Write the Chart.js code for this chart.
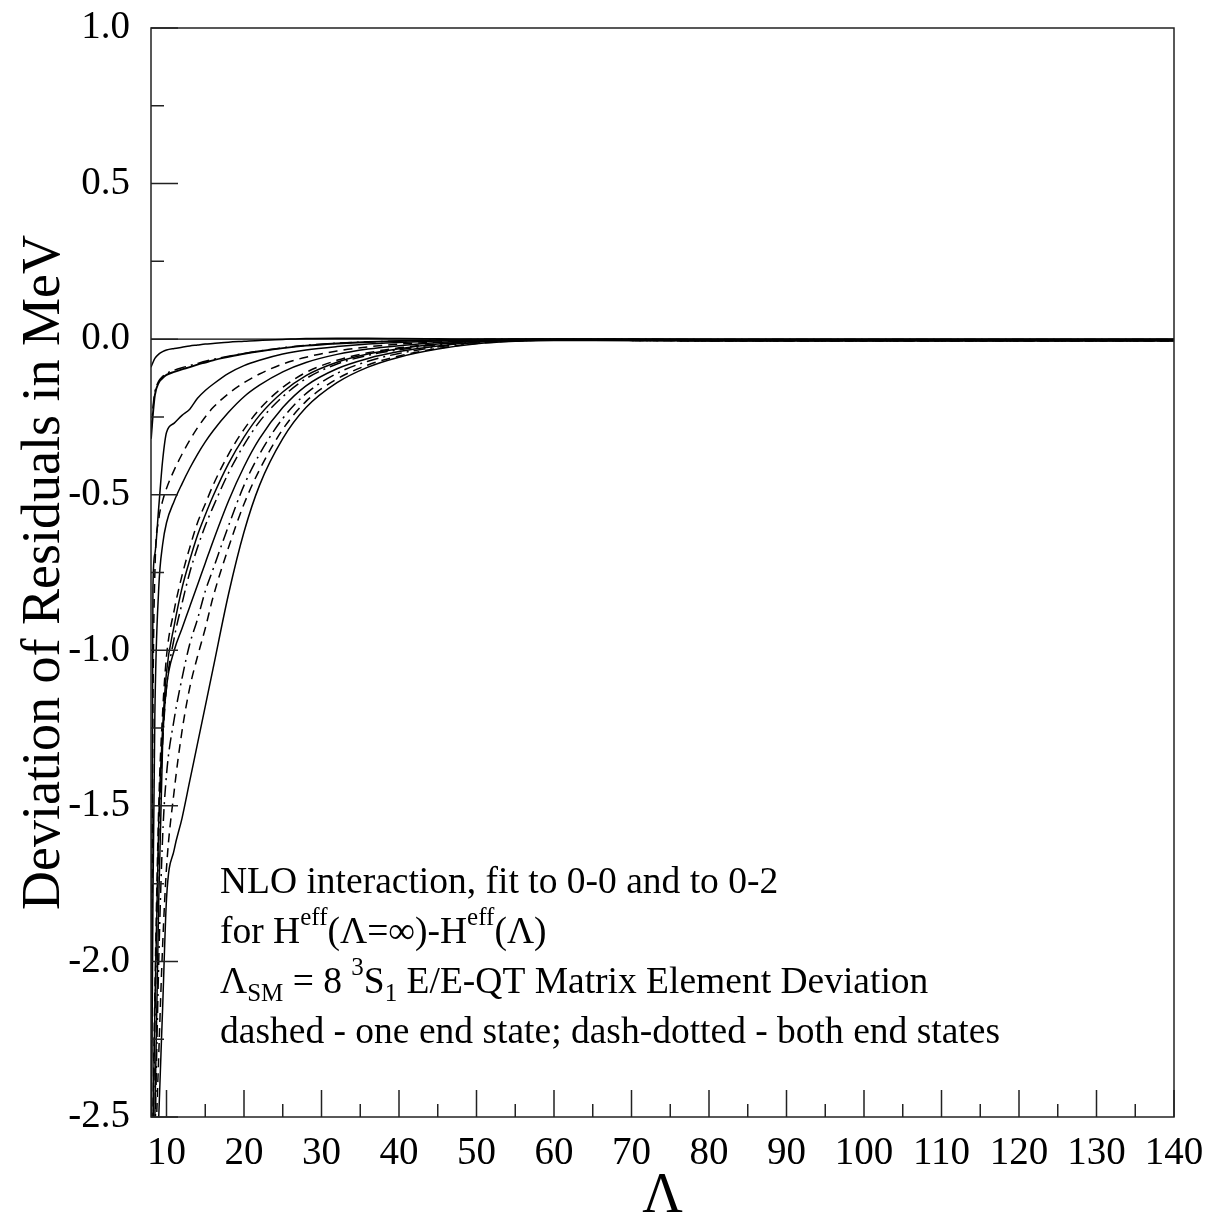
<!DOCTYPE html>
<html><head><meta charset="utf-8">
<script src="https://cdn.jsdelivr.net/npm/chart.js@4/dist/chart.umd.min.js"></script>
<style>html,body{margin:0;padding:0;background:#fff}#wrap{width:1211px;height:1220px;position:relative}</style>
</head><body><div id="wrap"><canvas id="c" width="1211" height="1220"></canvas></div>
<script>
// Lambda grid (x values)
const LAMBDA = [8, 8.25, 8.5, 9, 9.5, 10, 11, 12, 13, 14, 15, 16, 18, 20, 22, 25, 28, 32, 36, 40, 45, 50, 55, 60, 80, 100, 120, 140];
// series (MeV)
const curveA  = [-0.09, -0.075, -0.062, -0.048, -0.04, -0.035, -0.03, -0.026, -0.022, -0.019, -0.016, -0.014, -0.01, -0.007, -0.004, -0.001, 0.002, 0.003, 0.003, 0.002, 0.001, 0, 0, 0, 0, 0, 0, 0];
const curveB  = [-0.32, -0.24, -0.18, -0.14, -0.125, -0.115, -0.105, -0.097, -0.09, -0.082, -0.075, -0.068, -0.057, -0.047, -0.039, -0.029, -0.021, -0.014, -0.009, -0.006, -0.003, -0.001, 0, 0, -0.001, -0.001, -0.001, -0.001];
const curveB2 = [-0.3, -0.22, -0.17, -0.135, -0.12, -0.11, -0.1, -0.092, -0.085, -0.078, -0.071, -0.065, -0.055, -0.046, -0.038, -0.028, -0.02, -0.013, -0.009, -0.006, -0.003, -0.001, 0, 0, -0.001, -0.001, -0.001, -0.001];
const curveC  = [-2.7, -0.8, -0.69, -0.54, -0.39, -0.3, -0.27, -0.245, -0.225, -0.19, -0.165, -0.145, -0.11, -0.085, -0.068, -0.048, -0.035, -0.024, -0.016, -0.011, -0.006, -0.003, -0.001, 0, -0.002, -0.002, -0.002, -0.002];
const curveD  = [-2.6, -1.2, -0.75, -0.58, -0.52, -0.48, -0.42, -0.37, -0.325, -0.285, -0.25, -0.22, -0.175, -0.14, -0.112, -0.08, -0.058, -0.038, -0.025, -0.016, -0.009, -0.004, -0.002, -0.001, -0.002, -0.002, -0.002, -0.002];
const curveE  = [-2.8, -1.8, -1.2, -0.8, -0.66, -0.59, -0.52, -0.465, -0.415, -0.37, -0.33, -0.295, -0.235, -0.185, -0.148, -0.105, -0.075, -0.049, -0.032, -0.021, -0.011, -0.005, -0.002, -0.001, -0.003, -0.003, -0.003, -0.003];
const curveF6 = [-2.9, -2.5, -2.1, -1.5, -1.2, -1.02, -0.87, -0.76, -0.67, -0.59, -0.53, -0.47, -0.37, -0.29, -0.225, -0.155, -0.107, -0.068, -0.044, -0.028, -0.015, -0.007, -0.003, -0.002, -0.004, -0.004, -0.004, -0.004];
const curveG  = [-2.95, -2.55, -2.15, -1.55, -1.25, -1.07, -0.92, -0.8, -0.71, -0.63, -0.565, -0.505, -0.4, -0.315, -0.245, -0.17, -0.117, -0.074, -0.048, -0.031, -0.016, -0.007, -0.003, -0.002, -0.004, -0.004, -0.004, -0.004];
const curveF5 = [-3.0, -2.6, -2.2, -1.6, -1.3, -1.12, -0.96, -0.85, -0.75, -0.67, -0.6, -0.54, -0.43, -0.34, -0.265, -0.185, -0.127, -0.08, -0.052, -0.034, -0.018, -0.008, -0.004, -0.003, -0.005, -0.005, -0.005, -0.005];
const curveF4 = [-3.3, -2.9, -2.5, -1.8, -1.3, -1.12, -1.0, -0.93, -0.86, -0.79, -0.72, -0.65, -0.52, -0.41, -0.32, -0.22, -0.15, -0.095, -0.062, -0.04, -0.022, -0.01, -0.005, -0.003, -0.005, -0.005, -0.005, -0.005];
const curveF3 = [-3.4, -3.0, -2.6, -2.0, -1.6, -1.4, -1.22, -1.09, -0.98, -0.9, -0.81, -0.74, -0.6, -0.47, -0.37, -0.255, -0.175, -0.11, -0.071, -0.046, -0.025, -0.011, -0.005, -0.003, -0.005, -0.005, -0.005, -0.005];
const curveF2 = [-3.4, -3.0, -2.7, -2.3, -1.95, -1.7, -1.45, -1.26, -1.12, -1.02, -0.93, -0.83, -0.67, -0.53, -0.42, -0.29, -0.2, -0.128, -0.083, -0.054, -0.03, -0.014, -0.006, -0.003, -0.005, -0.005, -0.005, -0.005];
const curveO  = [-3.5, -3.2, -2.9, -2.5, -2.15, -1.8, -1.64, -1.54, -1.42, -1.3, -1.18, -1.06, -0.82, -0.62, -0.47, -0.32, -0.22, -0.14, -0.09, -0.058, -0.032, -0.015, -0.007, -0.004, -0.005, -0.005, -0.005, -0.005];
const ZERO_X = [8, 140];
const ZERO_Y = [0, 0];
// tick labels
const X_TICKS = [10, 20, 30, 40, 50, 60, 70, 80, 90, 100, 110, 120, 130, 140];
const X_MINOR = [15, 25, 35, 45, 55, 65, 75, 85, 95, 105, 115, 125, 135];
const Y_TICKS = [1.0, 0.5, 0.0, -0.5, -1.0, -1.5, -2.0, -2.5];
const Y_MINOR = [0.75, 0.25, -0.25, -0.75, -1.25, -1.75, -2.25];

const SOLID = [], DASH = [9, 6], DASHDOT = [12, 5, 2, 5];
const FONT = "'Liberation Serif', 'Times New Roman', serif";

function mk(label, xs, ys, dash, w) {
  return {
    label, data: xs.map((x, i) => ({x, y: ys[i]})),
    borderColor: '#000', borderWidth: w || 1.5, borderDash: dash,
    pointRadius: 0, fill: false, cubicInterpolationMode: 'monotone'
  };
}

const frame = {
  id: 'frame',
  afterDatasetsDraw(chart) {
    const {ctx, chartArea: a, scales: {x, y}} = chart;
    ctx.save();
    ctx.strokeStyle = '#222';
    ctx.lineWidth = 1.5;
    ctx.strokeRect(a.left, a.top, a.right - a.left, a.bottom - a.top);
    ctx.beginPath();
    X_TICKS.forEach(v => { const p = x.getPixelForValue(v); ctx.moveTo(p, a.bottom); ctx.lineTo(p, a.bottom - 27); });
    X_MINOR.forEach(v => { const p = x.getPixelForValue(v); ctx.moveTo(p, a.bottom); ctx.lineTo(p, a.bottom - 13); });
    Y_TICKS.forEach(v => { const p = y.getPixelForValue(v); ctx.moveTo(a.left, p); ctx.lineTo(a.left + 27, p); });
    Y_MINOR.forEach(v => { const p = y.getPixelForValue(v); ctx.moveTo(a.left, p); ctx.lineTo(a.left + 13, p); });
    ctx.stroke();

    // annotation text
    ctx.fillStyle = '#000';
    ctx.textBaseline = 'alphabetic';
    ctx.textAlign = 'left';
    const big = 37.5, small = 25;
    function runs(x0, yb, list) {
      let xx = x0;
      list.forEach(r => {
        const size = r.s === 'n' ? big : small;
        const dy = r.s === 'sup' ? -18 : (r.s === 'sub' ? 8 : 0);
        ctx.font = size + 'px ' + FONT;
        ctx.fillText(r.t, xx, yb + dy);
        xx += ctx.measureText(r.t).width;
      });
    }
    const L = 220;
    runs(L, 893, [{t: 'NLO interaction, fit to 0-0 and to 0-2', s: 'n'}]);
    runs(L, 943, [{t: 'for H', s: 'n'}, {t: 'eff', s: 'sup'}, {t: '(\u039B=\u221E)-H', s: 'n'}, {t: 'eff', s: 'sup'}, {t: '(\u039B)', s: 'n'}]);
    runs(L, 993, [{t: '\u039B', s: 'n'}, {t: 'SM', s: 'sub'}, {t: ' = 8 ', s: 'n'}, {t: '3', s: 'sup'}, {t: 'S', s: 'n'}, {t: '1', s: 'sub'}, {t: ' E/E-QT Matrix Element Deviation', s: 'n'}]);
    runs(L, 1043, [{t: 'dashed - one end state; dash-dotted - both end states', s: 'n'}]);
    ctx.restore();
  }
};

new Chart(document.getElementById('c'), {
  type: 'line',
  data: {
    datasets: [
      mk('zero', ZERO_X, ZERO_Y, SOLID, 1.2),
      mk('A', LAMBDA, curveA, SOLID),
      mk('B', LAMBDA, curveB, SOLID, 1.9),
      mk('B2', LAMBDA, curveB2, DASHDOT),
      mk('C', LAMBDA, curveC, SOLID),
      mk('D', LAMBDA, curveD, DASH),
      mk('E', LAMBDA, curveE, SOLID),
      mk('F6', LAMBDA, curveF6, DASH),
      mk('G', LAMBDA, curveG, SOLID),
      mk('F5', LAMBDA, curveF5, DASHDOT),
      mk('F4', LAMBDA, curveF4, SOLID),
      mk('F3', LAMBDA, curveF3, DASHDOT),
      mk('F2', LAMBDA, curveF2, DASH),
      mk('O', LAMBDA, curveO, SOLID)
    ]
  },
  options: {
    responsive: false, animation: false, devicePixelRatio: 1,
    layout: {padding: {top: 28, right: 37, bottom: 0, left: 0}},
    plugins: {legend: {display: false}, tooltip: {enabled: false}},
    scales: {
      x: {
        type: 'linear', min: 8, max: 140,
        afterBuildTicks: s => { s.ticks = X_TICKS.map(v => ({value: v})); },
        afterFit: s => { s.height = 103; s.paddingLeft = 0; s.paddingRight = 0; },
        grid: {display: false, drawTicks: false}, border: {display: false},
        ticks: {font: {family: FONT, size: 39}, color: '#000', padding: 13, maxRotation: 0, autoSkip: false},
        title: {display: true, text: '\u039B', color: '#000', font: {family: FONT, size: 56, lineHeight: 0.8}, padding: 0}
      },
      y: {
        type: 'linear', min: -2.5, max: 1.0,
        afterBuildTicks: s => { s.ticks = Y_TICKS.map(v => ({value: v})); },
        afterFit: s => { s.width = 151; s.paddingTop = 0; s.paddingBottom = 0; },
        grid: {display: false, drawTicks: false}, border: {display: false},
        ticks: {font: {family: FONT, size: 39}, color: '#000', padding: 21, autoSkip: false, callback: v => v.toFixed(1)},
        title: {display: true, text: 'Deviation of Residuals in MeV', color: '#000', font: {family: FONT, size: 54, lineHeight: 1}, padding: {top: 18, bottom: 0}}
      }
    }
  },
  plugins: [frame]
});
</script></body></html>
